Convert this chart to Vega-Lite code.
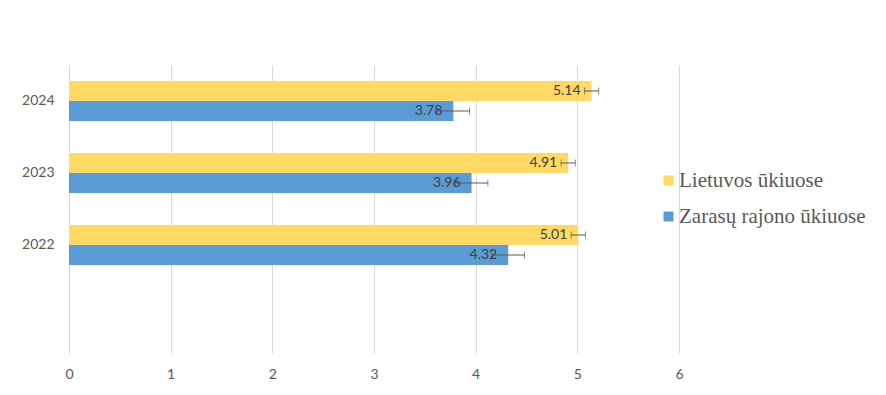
{
  "$schema": "https://vega.github.io/schema/vega-lite/v6.json",
  "width": 610,
  "height": 288,
  "autosize": {"type": "none"},
  "padding": {"left": 69, "top": 65, "right": 207, "bottom": 42},
  "background": "white",
  "config": {"view": {"stroke": null}, "font": "Lato"},
  "data": {
    "values": [
      {"year": "2024", "series": "Lietuvos ūkiuose", "value": 5.14, "lo": 5.07, "hi": 5.21},
      {"year": "2024", "series": "Zarasų rajono ūkiuose", "value": 3.78, "lo": 3.62, "hi": 3.94},
      {"year": "2023", "series": "Lietuvos ūkiuose", "value": 4.91, "lo": 4.84, "hi": 4.98},
      {"year": "2023", "series": "Zarasų rajono ūkiuose", "value": 3.96, "lo": 3.80, "hi": 4.12},
      {"year": "2022", "series": "Lietuvos ūkiuose", "value": 5.01, "lo": 4.94, "hi": 5.08},
      {"year": "2022", "series": "Zarasų rajono ūkiuose", "value": 4.32, "lo": 4.16, "hi": 4.48}
    ]
  },
  "encoding": {
    "y": {
      "field": "year",
      "type": "nominal",
      "scale": {"domain": ["2024", "2023", "2022", " "], "paddingInner": 0.4444, "paddingOuter": 0.2222},
      "axis": {
        "title": null,
        "ticks": false,
        "domainColor": "#d9d9d9",
        "labelPadding": 15,
        "labelColor": "#595959",
        "labelFontSize": 14,
        "labelFont": "Lato"
      }
    },
    "yOffset": {
      "field": "series",
      "type": "nominal",
      "sort": ["Lietuvos ūkiuose", "Zarasų rajono ūkiuose"],
      "scale": {"paddingInner": 0, "paddingOuter": 0}
    }
  },
  "layer": [
    {
      "mark": {"type": "bar"},
      "encoding": {
        "x": {
          "field": "value",
          "type": "quantitative",
          "scale": {"domain": [0, 6], "nice": false},
          "axis": {
            "title": null,
            "domain": false,
            "ticks": false,
            "values": [0, 1, 2, 3, 4, 5, 6],
            "format": "d",
            "labelFlush": false,
            "gridColor": "#d9d9d9",
            "labelPadding": 14,
            "labelFontSize": 14,
            "labelColor": "#595959",
            "labelFont": "Lato"
          }
        },
        "color": {
          "field": "series",
          "type": "nominal",
          "scale": {"domain": ["Lietuvos ūkiuose", "Zarasų rajono ūkiuose"], "range": ["#FFD966", "#5B9BD5"]},
          "legend": {
            "title": null,
            "orient": "none",
            "legendX": 589,
            "legendY": 105,
            "padding": 0,
            "symbolType": "square",
            "symbolSize": 100,
            "symbolStrokeWidth": 0,
            "labelFont": "Liberation Serif",
            "labelFontSize": 21,
            "labelLimit": 0,
            "labelColor": "#595959",
            "labelOffset": 0,
            "rowPadding": 14
          }
        }
      }
    },
    {
      "mark": {"type": "rule", "color": "#595959", "strokeWidth": 1},
      "encoding": {
        "x": {"field": "lo", "type": "quantitative"},
        "x2": {"field": "hi"}
      }
    },
    {
      "mark": {"type": "tick", "color": "#595959", "thickness": 1, "size": 7},
      "encoding": {"x": {"field": "lo", "type": "quantitative"}}
    },
    {
      "mark": {"type": "tick", "color": "#595959", "thickness": 1, "size": 7},
      "encoding": {"x": {"field": "hi", "type": "quantitative"}}
    },
    {
      "mark": {"type": "text", "align": "right", "dx": -11, "fontSize": 14, "color": "#404040", "font": "Lato"},
      "encoding": {
        "x": {"field": "value", "type": "quantitative"},
        "text": {"field": "value", "type": "quantitative", "format": ".2f"}
      }
    }
  ]
}
